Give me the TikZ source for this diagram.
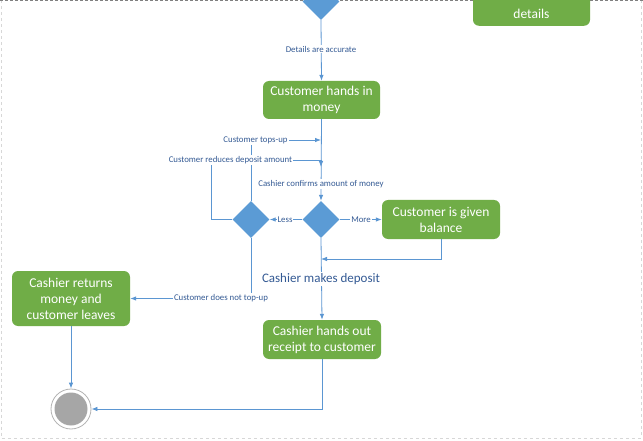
\documentclass[tikz,border=0pt]{standalone}
\usepackage{fontspec}
\setmainfont{Carlito}
\usetikzlibrary{shapes.geometric,arrows.meta}
\definecolor{actgreen}{RGB}{112,173,71}
\definecolor{diablue}{RGB}{91,155,213}
\definecolor{lineblue}{RGB}{91,150,210}
\definecolor{lbltext}{RGB}{52,90,148}
\definecolor{endgray}{RGB}{166,166,166}
\definecolor{framegray}{RGB}{215,215,215}
\tikzset{
  actbox/.style={draw=none, fill=actgreen, rounded corners=6pt, text=white, align=center,
    font=\fontsize{13.5}{16}\selectfont, inner sep=2pt},
  dia/.style={diamond, aspect=1, fill=diablue, draw=none, minimum width=37pt, minimum height=37pt, inner sep=0pt},
  conn/.style={draw=lineblue, line width=0.8pt, -{Latex[length=6pt,width=4.5pt]}},
  plain/.style={draw=lineblue, line width=0.8pt},
  lbl/.style={fill=white, text=lbltext, font=\fontsize{8.8}{10}\selectfont, inner sep=1pt},
  biglbl/.style={fill=white, text=lbltext, font=\fontsize{13}{15}\selectfont, inner sep=1.5pt},
}
\begin{document}
\begin{tikzpicture}[x=1pt,y=-1pt]
\useasboundingbox (0,0) rectangle (643,441);
\fill[white] (0,0) rectangle (643,441);
% frame
\draw[framegray, dashed, line width=0.8pt] (1.5,0.5) -- (1.5,438) -- (641,438) -- (641,0.5);
\draw[gray, dashed, line width=1.2pt, dash pattern=on 3pt off 2pt] (0,0.6) -- (643,0.6);
\begin{scope}
\clip (0,0.8) rectangle (643,441);
\node[dia] (d0) at (321,1.5) {};
\node[actbox, minimum width=117pt, minimum height=42pt, anchor=south] (bdet) at (531.5,26) {\strut\\details};
\end{scope}
% activity boxes
\node[actbox, minimum width=117pt, minimum height=38pt] (b1) at (321.5,100) {Customer hands in\\money};
\node[dia] (d1) at (251,219.5) {};
\node[dia] (d2) at (321,219.5) {};
\node[actbox, minimum width=118pt, minimum height=39pt] (b2) at (441,219.5) {Customer is given\\balance};
\node[actbox, minimum width=118pt, minimum height=55pt] (b3) at (71,298.5) {Cashier returns\\money and\\customer leaves};
\node[actbox, minimum width=118pt, minimum height=39pt] (b4) at (322,339.5) {Cashier hands out\\receipt to customer};
% end node
\node[circle, draw=endgray!85, line width=0.8pt, fill=white, minimum size=40pt, inner sep=0pt] (endn) at (71,409) {};
\node[circle, fill=endgray, minimum size=33pt, inner sep=0pt] (endin) at (71,409) {};
% coordinates
\coordinate (jtop) at (321,140);
\coordinate (jred) at (321,167);
\coordinate (jbal) at (321,259);
\coordinate (kleft) at (211,219.5);
\coordinate (kred) at (211,160);
\coordinate (kredr) at (321,160);
% connectors
\draw[conn] (d0.south) -- (b1.north);
\draw[conn] (b1.south) -- (d2.north);
\draw[conn] (d1.north) |- (jtop);
\draw[plain] (d1.west) -- (kleft) -- (kred) -- (kredr);
\draw[conn] (kredr) -- (jred);
\draw[conn] (d2.west) -- (d1.east);
\draw[conn] (d2.east) -- (b2.west);
\draw[conn] (b2.south) |- (jbal);
\draw[conn] (d2.south) -- (b4.north);
\draw[conn] (d1.south) |- (b3.east);
\draw[conn] (b3.south) -- (endn.north);
\draw[conn] (b4.south) |- (endn.east);
% labels
\node[lbl] (l0) at (321,49) {Details are accurate};
\node[lbl] (l1) at (255.5,140) {Customer tops-up};
\node[lbl] (l2) at (230.5,160) {Customer reduces deposit amount};
\node[lbl] (l3) at (321,184) {Cashier confirms amount of money};
\node[lbl] (l4) at (285,219.5) {Less};
\node[lbl] (l5) at (361,219.5) {More};
\node[biglbl] (l6) at (321,279) {Cashier makes deposit};
\node[lbl] (l7) at (221,298) {Customer does not top-up};
\end{tikzpicture}
\end{document}
